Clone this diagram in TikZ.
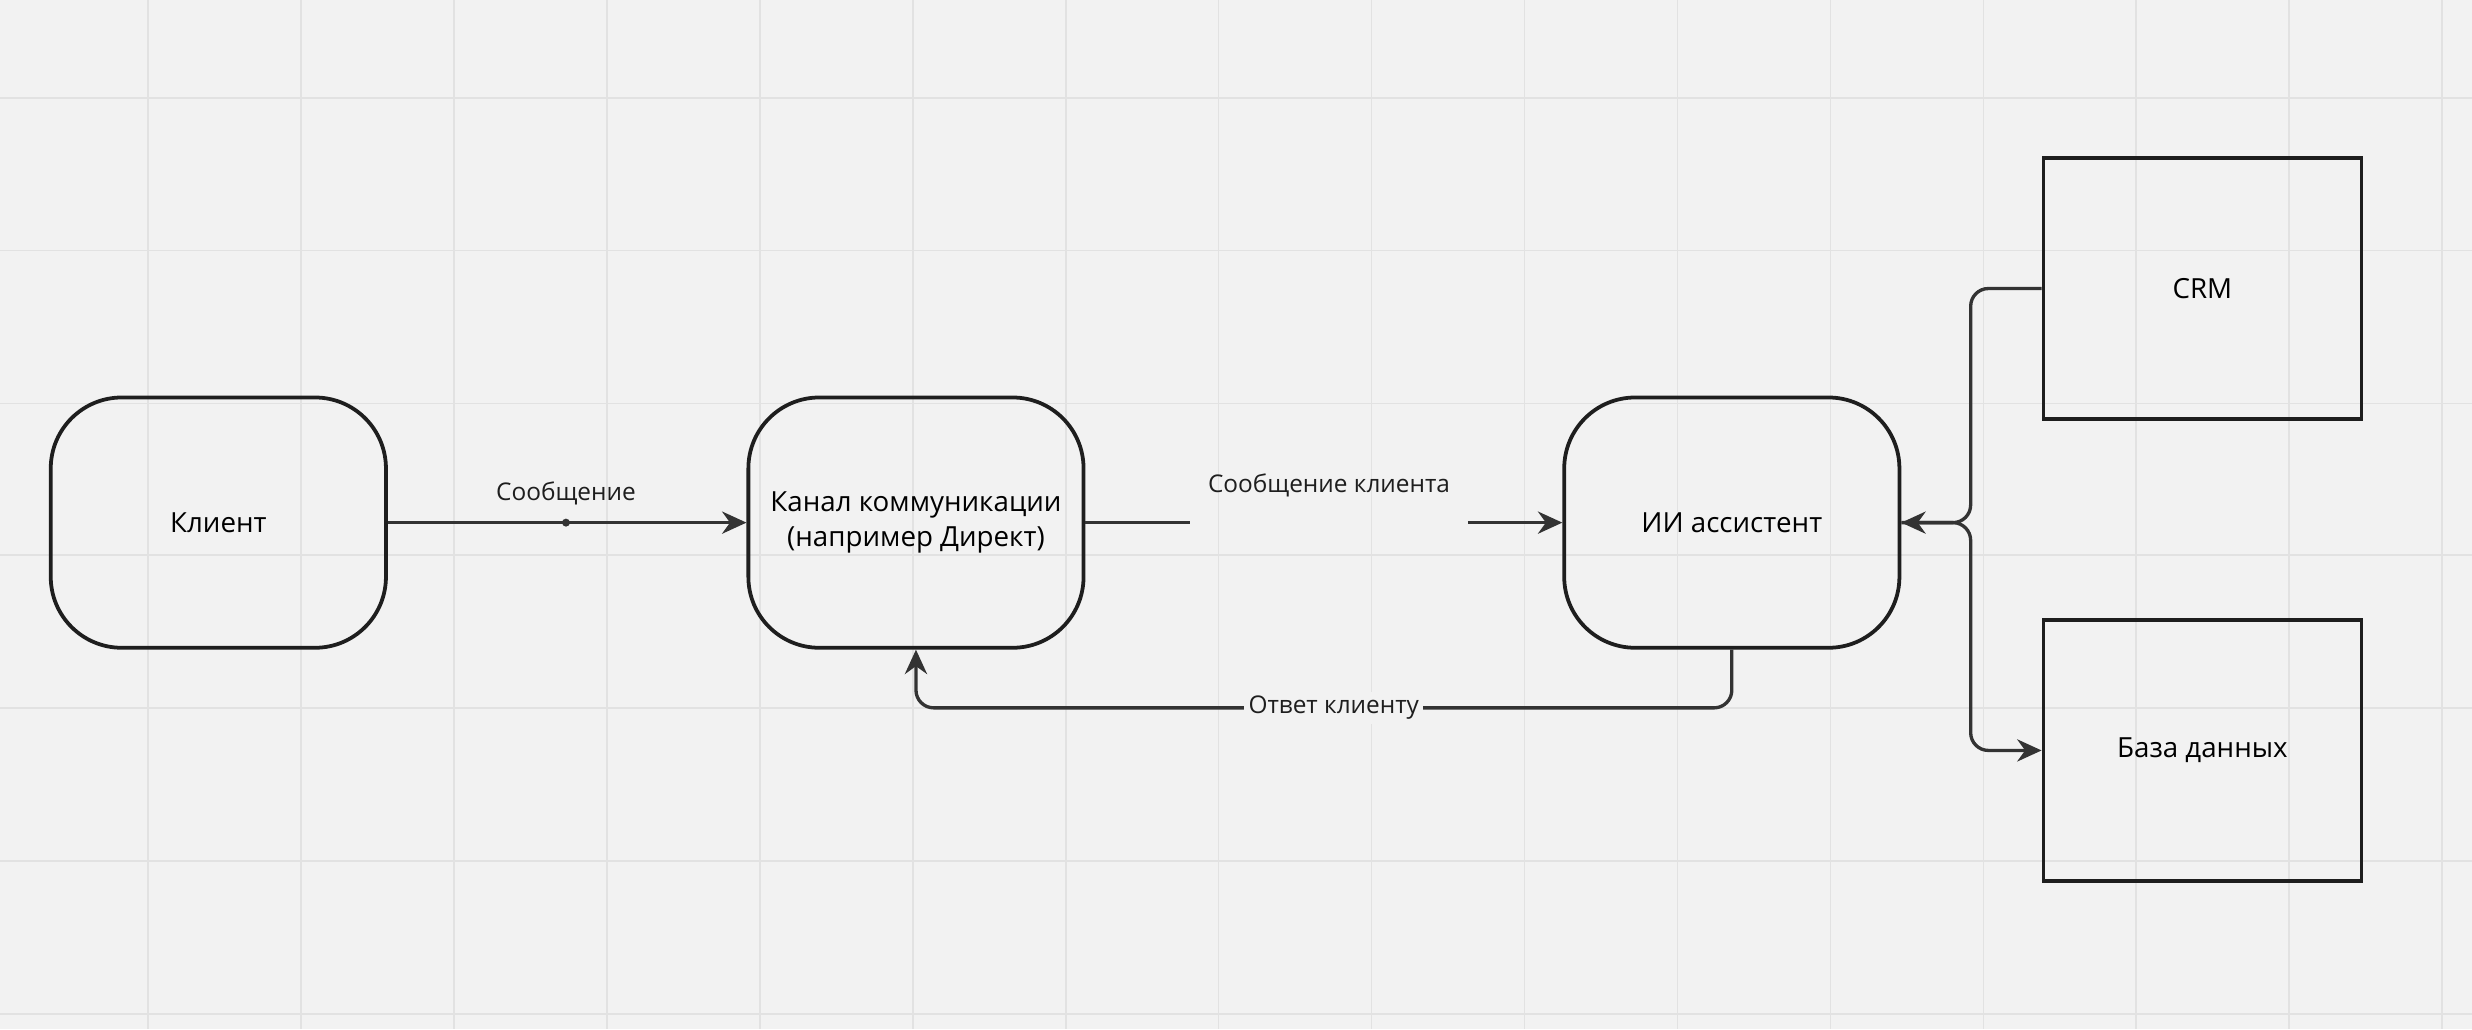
\documentclass[tikz,border=0pt]{standalone}
\usepackage{fontspec}
\setmainfont{Open Sans}
\usetikzlibrary{arrows.meta}
\definecolor{bgcol}{HTML}{F2F2F2}
\definecolor{gridcol}{HTML}{E2E2E2}
\definecolor{inkcol}{HTML}{1E1E1E}
\definecolor{linecol}{HTML}{333333}
\tikzset{
  roundbox/.style={draw=inkcol, line width=1.7pt, rounded corners=32pt, minimum width=151.2pt, minimum height=112.9pt, align=center, font=\fontsize{12.5}{16}\selectfont},
  plainbox/.style={draw=inkcol, line width=1.7pt, minimum width=143.4pt, minimum height=117.9pt, font=\fontsize{12.5}{16}\selectfont},
  link/.style={draw=linecol, line width=1.5pt, -{Stealth[length=11pt,width=10pt]}},
  lbl/.style={fill=bgcol, inner sep=2pt, font=\fontsize{11}{13}\selectfont, text=inkcol}
}
\begin{document}
\begin{tikzpicture}[x=0.025cm, y=-0.025cm]
  % background and grid
  \fill[bgcol] (0,0) rectangle (1568,653);
  \useasboundingbox (0,0) rectangle (1568,653);
  \foreach \gx in {94,191,288,385,482,579,676,773,870,967,1064,1161,1258,1355,1452,1549}
    \draw[gridcol, line width=0.7pt] (\gx,0) -- (\gx,653);
  \foreach \gy in {62,159,256,352,449,546,643}
    \draw[gridcol, line width=0.7pt] (0,\gy) -- (1568,\gy);
  % boxes
  \node[roundbox] (client) at (138.5,331.5) {Клиент};
  \node[roundbox] (channel) at (581,331.5) {Канал коммуникации\\(например Директ)};
  \node[roundbox] (assistant) at (1098.5,331.5) {ИИ ассистент};
  \node[plainbox] (crm) at (1397,183) {CRM};
  \node[plainbox] (db) at (1397,476) {База данных};
  % client to channel
  \draw[link] (client) -- (channel);
  \fill[linecol] (359,331.5) circle (1.8pt);
  \node[lbl, fill=none] (msg) at (359,313) {Сообщение};
  % channel to assistant
  \coordinate (gapA) at (755,331.5);
  \coordinate (gapB) at (931,331.5);
  \draw[draw=linecol, line width=1.5pt] (channel.east) -- (gapA);
  \draw[link] (gapB) -- (assistant.west);
  \node[lbl, fill=none] (msgclient) at (843,308) {Сообщение клиента};
  % answer back
  \draw[link, rounded corners=8pt] (assistant.south) -- (1098.5,449) -- (581,449) -- (channel.south);
  \node[lbl] (answer) at (846,449) {Ответ клиенту};
  % crm and database
  \coordinate (fork) at (1250,331.5);
  \draw[link, rounded corners=8pt] (crm.west) -- (1250,183) -- (fork) -- (assistant.east);
  \draw[link, rounded corners=8pt] (assistant.east) -- (fork) -- (1250,476) -- (db.west);
\end{tikzpicture}
\end{document}
